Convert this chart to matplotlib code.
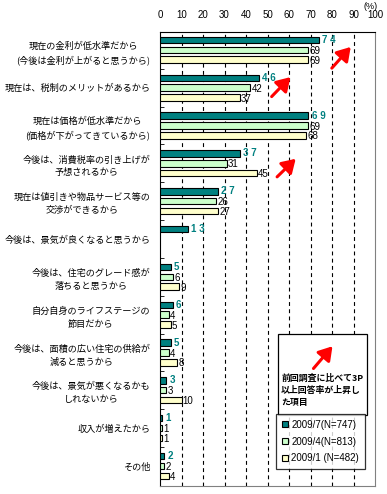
import matplotlib.pyplot as plt
import numpy as np
from matplotlib.patches import Rectangle

plt.rcParams["font.family"] = ["Noto Sans CJK JP", "DejaVu Sans"]
NUM_FONT = "Liberation Sans"

categories = [
    "現在の金利が低水準だから\n(今後は金利が上がると思うから)",
    "現在は、税制のメリットがあるから",
    "現在は価格が低水準だから\n(価格が下がってきているから)",
    "今後は、消費税率の引き上げが\n予想されるから",
    "現在は値引きや物品サービス等の\n交渉ができるから",
    "今後は、景気が良くなると思うから",
    "今後は、住宅のグレード感が\n落ちると思うから",
    "自分自身のライフステージの\n節目だから",
    "今後は、面積の広い住宅の供給が\n減ると思うから",
    "今後は、景気が悪くなるかも\nしれないから",
    "収入が増えたから",
    "その他",
]
jul_2009 = [74, 46, 69, 37, 27, 13, 5, 6, 5, 3, 1, 2]
apr_2009 = [69, 42, 69, 31, 26, None, 6, 4, 4, 3, 1, 2]
jan_2009 = [69, 37, 68, 45, 27, None, 9, 5, 8, 10, 1, 4]
series_labels = ["2009/7(N=747)", "2009/4(N=813)", "2009/1 (N=482)"]
colors = ["#008080", "#CCFFCC", "#FFFFCC"]

fig = plt.figure(figsize=(3.87, 4.94), dpi=100)
ax = fig.add_axes([0.4134, 0.0162, 0.556, 0.919])

y = np.arange(len(categories))
bar_h = 0.17
pitch = 0.26
for k, (vals, col) in enumerate(zip([jul_2009, apr_2009, jan_2009], colors)):
    for i, v in enumerate(vals):
        if v is None:
            continue
        yy = y[i] + (k - 1) * pitch
        ax.barh(yy, v, height=bar_h, color=col, edgecolor="black", linewidth=0.8, zorder=3)
        if k == 0:
            ax.text(v + 1.5, yy, " ".join(str(v)), color="#008080", fontweight="bold",
                    fontsize=7, va="center", ha="left", family=NUM_FONT, zorder=4)
        else:
            ax.text(v + 0.6, yy + 0.03, str(v), color="black", fontsize=7, va="center",
                    ha="left", family=NUM_FONT, zorder=4)

ax.set_xlim(0, 100)
ax.set_ylim(11.53, -0.47)
ax.set_xticks(np.arange(0, 101, 10))
ax.set_xticklabels([str(t) for t in range(0, 101, 10)], family=NUM_FONT, fontsize=7)
ax.xaxis.tick_top()
ax.tick_params(axis="x", length=0, pad=9)
ax.set_yticks(y)
ax.set_yticklabels(categories, fontsize=6.6, linespacing=1.55)
for lbl in ax.get_yticklabels():
    lbl.set_multialignment("center")
ax.tick_params(axis="y", length=0, pad=7)
ax.set_yticks(y[:-1] + 0.5, minor=True)
ax.tick_params(axis="y", which="minor", direction="in", length=3, color="black")
for xv in range(10, 100, 10):
    ax.axvline(xv, color="black", linestyle=(0, (3.5, 3)), linewidth=0.8, zorder=1)
for side in ["top", "left"]:
    ax.spines[side].set_color("black")
for side in ["right", "bottom"]:
    ax.spines[side].set_color("#808080")
fig.text(0.958, 0.996, "(%)", fontsize=6.5, ha="center", va="top", family=NUM_FONT)

arrow_props = dict(arrowstyle="-|>,head_length=0.8,head_width=0.5", color="red", lw=2.2)
arrow_spans = [((79, 0.54), (89.5, -0.13)), ((51, 1.29), (61.5, 0.67)), ((53.5, 3.41), (64, 2.83))]
for tail, head in arrow_spans:
    ax.annotate("", xy=head, xytext=tail, arrowprops=arrow_props, zorder=5)

# note box
ax.add_patch(Rectangle((55, 7.5), 41, 2.15, facecolor="white", edgecolor="black",
                       linewidth=0.9, zorder=6))
ax.annotate("", xy=(81, 7.78), xytext=(70.5, 8.48), arrowprops=arrow_props, zorder=7)
ax.text(56.3, 9.0, "前回調査に比べて3P\n以上回答率が上昇し\nた項目", fontsize=6.4,
        fontweight="bold", ha="left", va="center", linespacing=1.45, zorder=7)

handles = [Rectangle((0, 0), 1, 1, facecolor=c, edgecolor="black", linewidth=0.8) for c in colors]
leg = ax.legend(handles, series_labels, loc="lower right", bbox_to_anchor=(0.953, 0.037),
                borderaxespad=0, frameon=True, fancybox=False, edgecolor="black",
                handlelength=0.6, handleheight=0.6, handletextpad=0.4,
                labelspacing=0.7, borderpad=0.6, prop={"family": NUM_FONT, "size": 7})
leg.get_frame().set_linewidth(0.9)
leg.set_zorder(8)

fig.savefig("out.png", dpi=100)
